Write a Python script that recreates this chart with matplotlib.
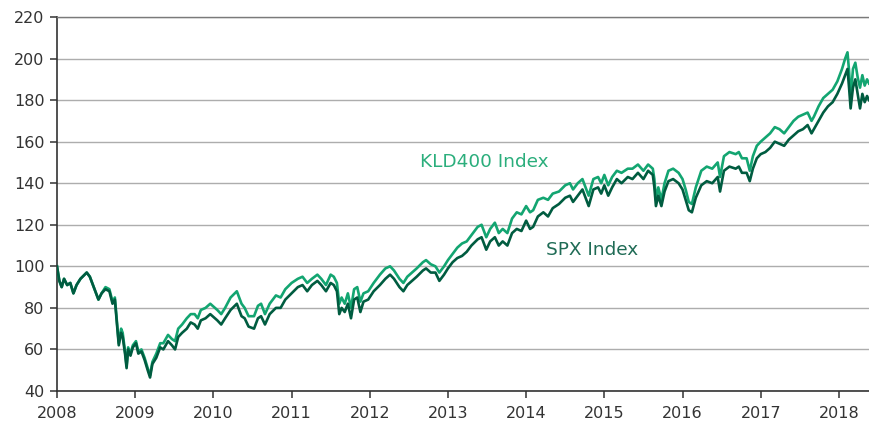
import matplotlib
matplotlib.use("Agg")
import matplotlib.pyplot as plt
import numpy as np

# decimal-year dates and index levels
dates = [
    2008.00, 2008.03, 2008.06, 2008.09, 2008.13, 2008.17, 2008.21, 2008.25, 2008.30, 2008.38,
    2008.42, 2008.47, 2008.53, 2008.57, 2008.62, 2008.67, 2008.71, 2008.74, 2008.77, 2008.79,
    2008.82, 2008.84, 2008.87, 2008.89, 2008.91, 2008.94, 2008.97, 2009.01, 2009.04, 2009.08,
    2009.12, 2009.16, 2009.19, 2009.22, 2009.27, 2009.32, 2009.36, 2009.42, 2009.47, 2009.51,
    2009.55, 2009.60, 2009.66, 2009.71, 2009.76, 2009.80, 2009.84, 2009.90, 2009.96, 2010.05,
    2010.10, 2010.15, 2010.22, 2010.30, 2010.36, 2010.40, 2010.45, 2010.52, 2010.57, 2010.61,
    2010.66, 2010.72, 2010.80, 2010.86, 2010.92, 2011.00, 2011.08, 2011.14, 2011.20, 2011.26,
    2011.33, 2011.38, 2011.44, 2011.50, 2011.54, 2011.58, 2011.61, 2011.64, 2011.68, 2011.72,
    2011.76, 2011.80, 2011.84, 2011.88, 2011.92, 2011.98, 2012.05, 2012.13, 2012.20, 2012.26,
    2012.31, 2012.38, 2012.43, 2012.48, 2012.54, 2012.60, 2012.68, 2012.72, 2012.78, 2012.84,
    2012.89, 2012.95, 2013.00, 2013.06, 2013.12, 2013.18, 2013.24, 2013.30, 2013.38, 2013.43,
    2013.49, 2013.54, 2013.60, 2013.65, 2013.70, 2013.76, 2013.82, 2013.88, 2013.94, 2014.00,
    2014.05, 2014.09, 2014.15, 2014.22, 2014.28, 2014.34, 2014.42, 2014.50, 2014.56, 2014.60,
    2014.66, 2014.72, 2014.78, 2014.80, 2014.86, 2014.92, 2014.96, 2015.00, 2015.05, 2015.10,
    2015.16, 2015.22, 2015.30, 2015.36, 2015.43, 2015.50, 2015.56, 2015.62, 2015.64, 2015.66,
    2015.69, 2015.73, 2015.77, 2015.82, 2015.88, 2015.95, 2016.00, 2016.04, 2016.08, 2016.12,
    2016.17, 2016.24, 2016.31, 2016.38, 2016.45, 2016.48, 2016.53, 2016.60, 2016.68, 2016.72,
    2016.76, 2016.82, 2016.86, 2016.90, 2016.95, 2017.00, 2017.06, 2017.12, 2017.18, 2017.24,
    2017.30, 2017.36, 2017.42, 2017.48, 2017.54, 2017.60, 2017.65, 2017.68, 2017.74, 2017.80,
    2017.86, 2017.92, 2017.98, 2018.04, 2018.08, 2018.11, 2018.13, 2018.15, 2018.18, 2018.21,
    2018.24, 2018.27, 2018.30, 2018.33, 2018.36, 2018.385,
]

spx = [
    100, 93, 90, 94, 91, 92, 87, 91, 94, 97,
    95, 90, 84, 87, 89, 88, 82, 84, 71, 62,
    68, 66, 58, 51, 60, 57, 61, 63, 58, 59,
    55, 50, 46.5, 53, 56, 61, 60, 64, 62, 60,
    66, 68, 70, 73, 72, 70, 74, 75, 77, 74,
    72, 75, 79, 82, 76, 75, 71, 70, 75, 76,
    72, 77, 80, 80, 84, 87, 90, 91, 88, 91,
    93, 91, 88, 92, 91, 88, 77, 80, 78, 82,
    75, 84, 85, 78, 83, 84, 88, 91, 94, 96,
    94, 90, 88, 91, 93, 95, 98, 99, 97, 97,
    93, 96, 99, 102, 104, 105, 107, 110, 113, 114,
    108, 112, 114, 110, 112, 110, 116, 118, 117, 122,
    118, 119, 124, 126, 124, 128, 130, 133, 134, 131,
    134, 137, 131, 129, 137, 138, 135, 139, 134, 138,
    142, 140, 143, 142, 145, 142, 146, 144, 138, 129,
    134, 129, 136, 141, 142, 140, 137, 132, 127, 126,
    133, 139, 141, 140, 143, 136, 146, 148, 147, 148,
    145, 145, 141, 147, 152, 154, 155, 157, 160, 159,
    158, 161, 163, 165, 166, 168, 164, 166, 170, 174,
    177, 179, 183, 188, 192, 195, 186, 176, 186, 190,
    183, 176, 183, 179, 182, 180,
]

kld = [
    100, 93, 90, 94, 91, 92, 87, 91, 94, 97,
    95, 90, 84, 87, 90, 89, 83, 85, 72, 63,
    70, 68, 59, 52, 61, 58, 62, 64, 59, 60,
    56, 51, 47.5, 54, 58, 63, 63, 67, 65, 64,
    70, 72, 75, 77, 77, 75, 79, 80, 82, 79,
    77, 80, 85, 88, 82, 80, 76, 76, 81, 82,
    77, 82, 86, 85, 89, 92, 94, 95, 92, 94,
    96, 94, 91, 96, 95, 92, 82, 85, 82, 87,
    80, 89, 90, 83, 87, 88, 92, 96, 99, 100,
    98, 94, 92, 95, 97, 99, 102, 103, 101, 100,
    97, 100, 103, 106, 109, 111, 112, 115, 119, 120,
    114, 118, 121, 116, 118, 116, 123, 126, 125, 129,
    126, 127, 132, 133, 132, 135, 136, 139, 140, 137,
    140, 142, 136, 134, 142, 143, 140, 144, 139, 143,
    146, 145, 147, 147, 149, 146, 149, 147, 142, 132,
    138, 132, 140, 146, 147, 145, 142, 137, 131, 130,
    138, 146, 148, 147, 150, 143, 153, 155, 154, 155,
    152, 152, 146, 153, 158, 160, 162, 164, 167, 166,
    164, 167, 170, 172, 173, 174, 170, 172, 177, 181,
    183, 185, 189, 195, 200, 203, 194, 181, 195, 198,
    191, 186, 192, 187, 190, 188,
]

year_ticks = list(range(2008, 2019))
y_ticks = list(range(40, 221, 20))

kld_color = "#13A571"
spx_color = "#005C40"

fig = plt.figure(figsize=(8.69, 4.25), dpi=100)
ax = fig.add_axes([57 / 869, 1 - 391 / 425, 1 - 57 / 869, (391 - 17) / 425])

ax.plot(dates, kld, color=kld_color, lw=1.9, solid_joinstyle="round", zorder=3)
ax.plot(dates, spx, color=spx_color, lw=1.9, solid_joinstyle="round", zorder=4)

ax.set_xlim(2008, 2018.385)
ax.set_ylim(40, 220)
ax.set_xticks(year_ticks)
ax.set_xticklabels([str(y) for y in year_ticks])
ax.set_yticks(y_ticks)
ax.yaxis.grid(True, color="#ADADAD", lw=1.0)
ax.set_axisbelow(True)

ax.spines["right"].set_visible(False)
ax.spines["top"].set_color("#7A7A7A")
ax.spines["top"].set_linewidth(1.0)
ax.spines["left"].set_color("#333333")
ax.spines["bottom"].set_color("#333333")
ax.spines["left"].set_linewidth(1.2)
ax.spines["bottom"].set_linewidth(1.2)

ax.tick_params(axis="both", which="major", length=5, width=1.1, color="#333333",
               labelsize=11.5, labelcolor="#333333", direction="out")
ax.tick_params(axis="x", pad=6)
ax.tick_params(axis="y", pad=4)

ax.text(2013.46, 150.2, "KLD400 Index", color="#2BAE7C", fontsize=13.3,
        ha="center", va="center")
ax.text(2014.85, 108, "SPX Index", color="#1F6B55", fontsize=13.3,
        ha="center", va="center")

fig.savefig("out.png", dpi=100)
